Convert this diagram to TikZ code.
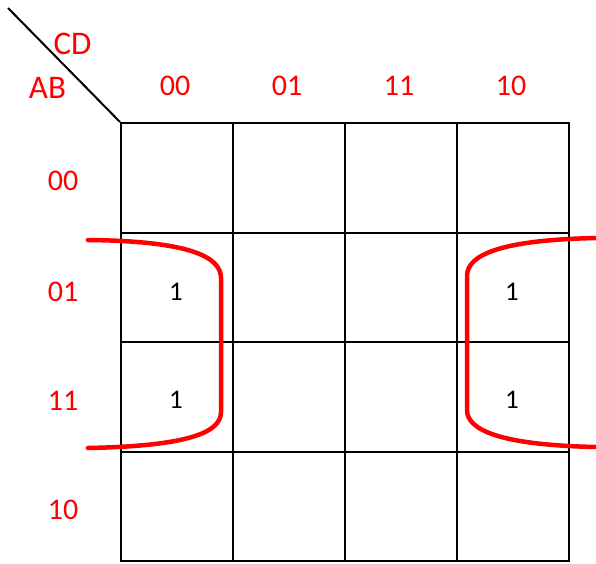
\documentclass[tikz,border=0pt]{standalone}
\usepackage{fontspec}
\setmainfont{Carlito}
\begin{document}
\begin{tikzpicture}[x=1pt,y=-1pt,
  cell/.style={draw=black,line width=2pt,minimum width=112pt,minimum height=109.5pt,inner sep=0pt,anchor=north west},
  one/.style={inner sep=0pt,font=\fontsize{27}{27}\selectfont},
  lbl/.style={text=red,inner sep=0pt,font=\fontsize{30}{30}\selectfont},
  var/.style={text=red,inner sep=0pt,font=\fontsize{33}{33}\selectfont},
  loop/.style={draw=red,line width=4.5pt,line cap=round}]
\useasboundingbox (0,0) rectangle (596,563);
% grid
\foreach \c [count=\i from 0] in {0,1,2,3}{
  \foreach \r [count=\j from 0] in {0,1,2,3}{
    \node[cell] (c\i\j) at ({120+112*\i},{122+109.5*\j}) {};
  }
}
\node[one] (o1) at (176,292) {1};
\node[one] (o2) at (176,400) {1};
\node[one] (o3) at (512,292) {1};
\node[one] (o4) at (512,400) {1};
% column labels
\node[lbl] (k00) at (175,86) {00};
\node[lbl] (k01) at (287,86) {01};
\node[lbl] (k11) at (399,86) {11};
\node[lbl] (k10) at (511,86) {10};
% row labels
\node[lbl] (r00) at (63,181) {00};
\node[lbl] (r01) at (63,292) {01};
\node[lbl] (r11) at (63,401) {11};
\node[lbl] (r10) at (63,510) {10};
\node[var] (cd) at (72.5,44) {CD};
\node[var] (ab) at (47.5,88) {AB};
% diagonal
\coordinate (dstart) at (8,8);
\draw[line width=2pt] (dstart) -- (c00.north west);
% red loops
\draw[loop] (88,240) .. controls (190,241) and (221,257) .. (221,278)
  -- (221,412) .. controls (221,432) and (190,446) .. (88,448);
\draw[loop] (596,238) .. controls (500,240) and (467,255) .. (467,276)
  -- (467,410) .. controls (467,430) and (500,445) .. (596,447);
\end{tikzpicture}
\end{document}
